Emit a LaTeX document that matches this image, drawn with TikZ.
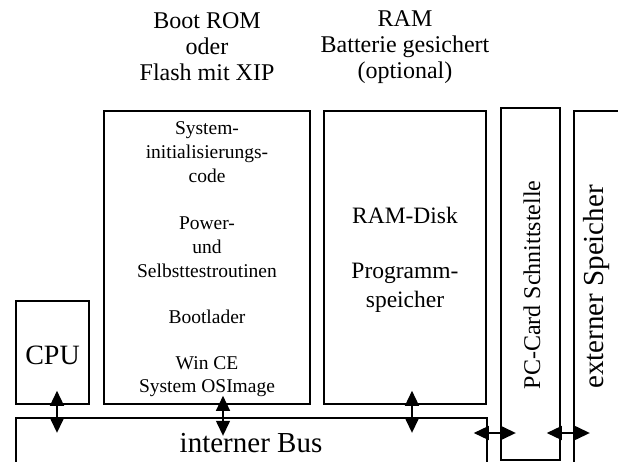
\documentclass[tikz,border=0pt]{standalone}
\usepackage{fontspec}
\setmainfont{Liberation Serif}
\usetikzlibrary{arrows.meta,calc}
\begin{document}
\begin{tikzpicture}[x=1pt,y=-1pt,
  box/.style={draw, line width=1.6pt, rectangle, inner sep=0pt},
  title/.style={align=center, font=\fontsize{24}{26}\selectfont},
  small/.style={align=center, font=\fontsize{19.5}{24}\selectfont},
  mid/.style={align=center, font=\fontsize{23.5}{29}\selectfont},
  big/.style={align=center, font=\fontsize{29}{32}\selectfont},
  dbl/.style={line width=1.4pt, {Triangle[length=15pt,width=14pt]}-{Triangle[length=15pt,width=14pt]}}]
\useasboundingbox (0,0) rectangle (618,462);
\begin{scope}
\clip (0,0) rectangle (618,462);
% blocks
\node[box, minimum width=73pt, minimum height=103pt] (cpu) at (52.5,352.5) {};
\node[box, minimum width=206pt, minimum height=293pt] (boot) at (207,257.5) {};
\node[box, minimum width=162pt, minimum height=293pt] (ram) at (405,257.5) {};
\node[box, minimum width=471pt, minimum height=62pt] (bus) at (251.5,449) {};
\node[box, minimum width=59pt, minimum height=352pt] (pc) at (530.5,284) {};
\node[box, minimum width=66pt, minimum height=369pt] (ext) at (607,295.5) {};
% headings above the memories
\node[title] (tboot) at (207,47) {Boot ROM\\oder\\Flash mit XIP};
\node[title] (tram) at (405,47) {RAM\\Batterie gesichert\\(optional)};
% contents of the boot memory
\node[small] (init) at (207,152) {System-\\initialisierungs-\\code};
\node[small] (power) at (207,247) {Power-\\und\\Selbsttestroutinen};
\node[small] (loader) at (207,317) {Bootlader};
\node[small, font=\fontsize{19.5}{23}\selectfont] (osimg) at (207,376.5) {Win CE\\System OSImage};
% contents of the RAM
\node[mid] (disk) at (405,215) {RAM-Disk};
\node[mid] (prog) at (405,287.5) {Programm-\\speicher};
% labels of the remaining blocks
\node[big, font=\fontsize{28}{30}\selectfont] (tcpu) at (52.5,355) {CPU};
\node[big] (tbus) at (251,443) {interner Bus};
\node[title, rotate=90] (tpc) at (532,285) {PC-Card Schnittstelle};
\node[big, rotate=90] (text) at (597,287) {externer Speicher};
% bus connections
\draw[dbl] ($(cpu.south)+(4.5,-14)$) -- ($(cpu.south)+(4.5,28)$);
\draw[dbl] ($(boot.south)+(16,-9)$) -- ($(boot.south)+(16,31)$);
\draw[dbl] ($(ram.south)+(7,-14)$) -- ($(ram.south)+(7,28)$);
\draw[dbl] ($(bus.east)+(-14,-16)$) -- ($(bus.east)+(28,-16)$);
\draw[dbl] ($(pc.east)+(-14,149)$) -- ($(pc.east)+(29,149)$);
\end{scope}
\end{tikzpicture}
\end{document}
